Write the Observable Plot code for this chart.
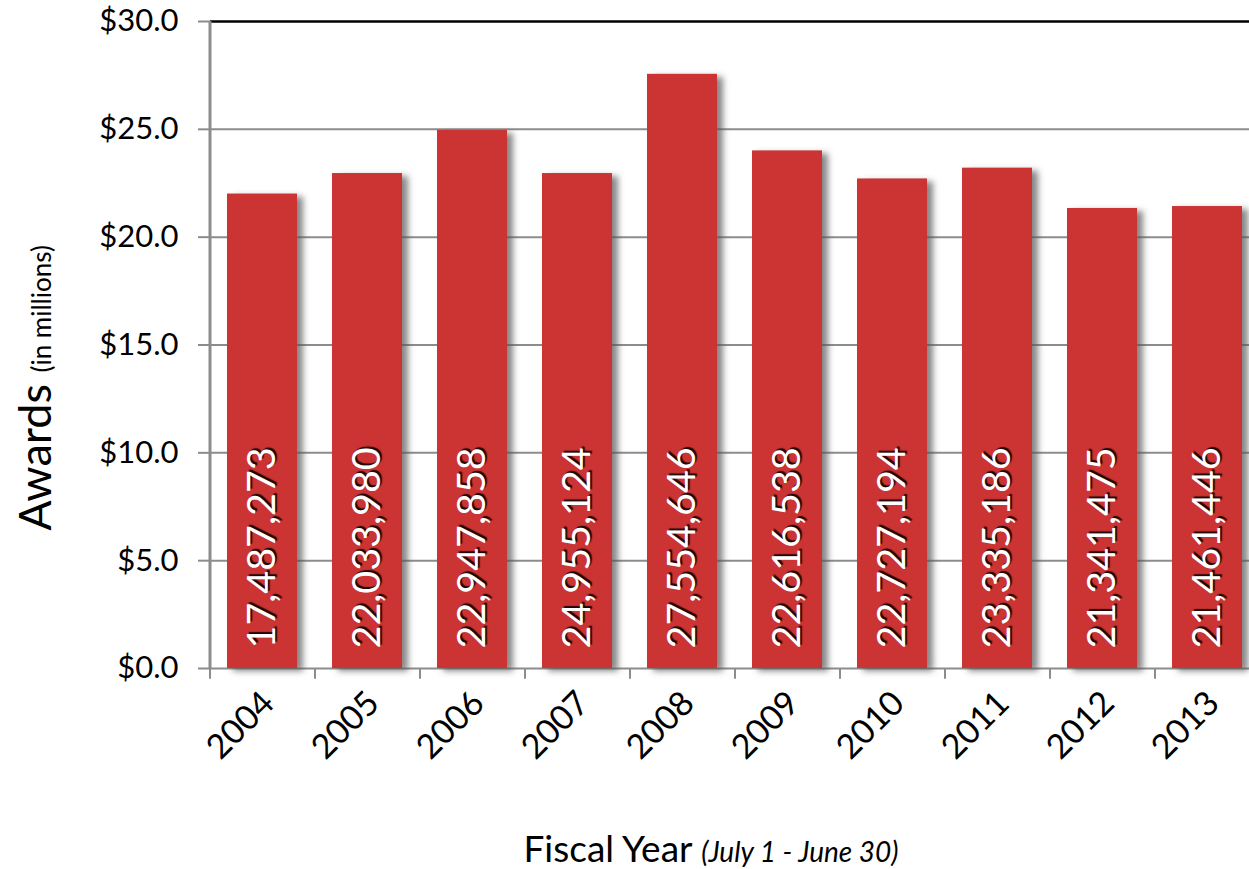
<!DOCTYPE html>
<html><head><meta charset="utf-8">
<script src="https://cdn.jsdelivr.net/npm/d3@7"></script>
<script src="https://cdn.jsdelivr.net/npm/@observablehq/plot@0.6"></script>
<style>
html,body{margin:0;padding:0;overflow:hidden;background:#fff;}
#wrap{position:relative;width:1249px;height:869px;overflow:hidden;}
#chart svg{max-width:none !important;height:869px !important;}
#ytitle{position:absolute;left:34px;top:388px;transform:translate(-50%,-50%) rotate(-90deg);white-space:nowrap;font-family:Lato,sans-serif;font-size:45px;line-height:1;color:#000;}
#ytitle small{font-size:26px;}
#xtitle{position:absolute;left:711px;top:829px;transform:translateX(-50%);white-space:nowrap;font-family:Lato,sans-serif;font-size:37px;line-height:1;color:#000;}
#xtitle i{font-size:28px;}
</style></head>
<body><div id="wrap"><div id="chart"></div>
<div id="ytitle">Awards <small>(in millions)</small></div>
<div id="xtitle">Fiscal Year <i>(July 1 - June 30)</i></div>
</div>
<script>
const years = ["2004","2005","2006","2007","2008","2009","2010","2011","2012","2013"];
const awards = [22.0, 22.95, 24.95, 22.95, 27.55, 24.0, 22.7, 23.2, 21.33, 21.42];
const labels = ["17,487,273","22,033,980","22,947,858","24,955,124","27,554,646","22,616,538","22,727,194","23,335,186","21,341,475","21,461,446"];
const yTicks = [0,5,10,15,20,25,30];
const gridTicks = [0,5,10,15,20,25];

const data = years.map((y,i)=>({year:y, value:awards[i], label:labels[i]}));
const W = 1262, H = 869, ML = 210, MR = 2, MT = 21, MB = 201;
const step = (W - ML - MR) / years.length;

const chart = Plot.plot({
  width: W, height: H,
  marginLeft: ML, marginRight: MR, marginTop: MT, marginBottom: MB,
  style: {fontFamily: "Lato, sans-serif", background: "white", overflow: "visible", maxWidth: "none"},
  x: {domain: years, paddingInner: 0.333, paddingOuter: 0.1665, align: 0.5},
  y: {domain: [0, 30]},
  marks: [
    Plot.ruleY(gridTicks, {stroke: "#8c8c8c", strokeWidth: 2}),
    Plot.ruleY([30], {stroke: "#000", strokeWidth: 2.5}),
    Plot.barY(data, {x: "year", y: "value", fill: "#555", fillOpacity: 0.7, dx: 6, dy: 3}),
    Plot.barY(data, {x: "year", y: "value", fill: "#cc3333"}),
    Plot.ruleX([years[0]], {dx: -step/2, y1: 0, y2: 30, stroke: "#8c8c8c", strokeWidth: 3}),
    Plot.ruleX(years, {x: d => d, dx: -step/2, y1: 0, y2: -0.5, stroke: "#8c8c8c", strokeWidth: 2}),
    Plot.axisY({ticks: yTicks, tickSize: 12, tickPadding: 20, tickFormat: d => "$" + d.toFixed(1), fontSize: 31, stroke: "#8c8c8c", strokeWidth: 2, label: null}),
    Plot.axisX({tickSize: 0, tickRotate: -45, tickPadding: 29, dx: 6, fontSize: 34, label: null}),
    Plot.text(data, {x: "year", y: 0, text: "label", rotate: -90, textAnchor: "start", lineAnchor: "middle", dy: -20, fill: "white", fontSize: 39.5})
  ]
});
document.getElementById("chart").appendChild(chart);

const svg = d3.select(chart);
svg.append("defs").html('<filter id="blur" x="-20%" y="-20%" width="140%" height="140%"><feGaussianBlur stdDeviation="3"/></filter>');
const bars = chart.querySelectorAll('g[aria-label="bar"]');
if (bars.length) bars[0].setAttribute("filter", "url(#blur)");
chart.querySelectorAll('g[aria-label="text"] text').forEach(t => {
  t.style.textShadow = "2px 2px 1px rgba(0,0,0,0.85)";
});
chart.querySelectorAll('g[aria-label="y-axis tick label"] text, g[aria-label="x-axis tick label"] text').forEach(t => t.setAttribute("fill", "#000"));
</script>
</body></html>
